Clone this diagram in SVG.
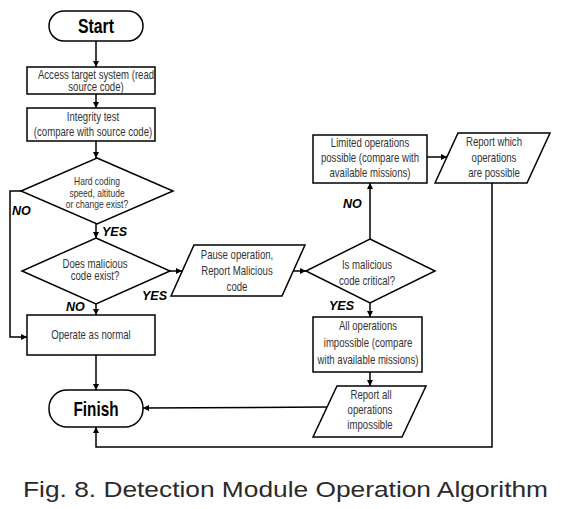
<svg xmlns="http://www.w3.org/2000/svg" width="569" height="509" viewBox="0 0 569 509">
<style>
.s{fill:#fff;stroke:#000;stroke-width:1.5}
.t{font-family:"Liberation Sans",Arial,sans-serif;font-size:12px;fill:#333;text-anchor:middle}
.sm{font-size:10px}
.b{font-family:"Liberation Sans",Arial,sans-serif;font-weight:bold;fill:#000;text-anchor:middle}
.l{font-family:"Liberation Sans",Arial,sans-serif;font-weight:bold;font-style:italic;font-size:12.5px;fill:#000}
.c{fill:none;stroke:#000;stroke-width:1.5}
.cap{font-family:"Liberation Sans",Arial,sans-serif;font-size:22px;fill:#2a2a2a}
</style>
<defs>
<marker id="a" markerUnits="userSpaceOnUse" markerWidth="6" markerHeight="6" refX="6" refY="3" orient="auto">
<path d="M0,0 L6,3 L0,6 z" fill="#000"/>
</marker>
</defs>
<rect width="569" height="509" fill="#fff"/>
<g id="start"><rect class="s" x="49" y="11" width="94" height="30" rx="15"/><text class="b" x="96" y="33" font-size="20" textLength="36" lengthAdjust="spacingAndGlyphs">Start</text></g>
<g id="access"><rect class="s" x="27" y="67" width="128" height="27"/><text class="t" transform="translate(96,78.5) scale(.8,1)">Access target system (read</text><text class="t" transform="translate(96,91) scale(.8,1)">source code)</text></g>
<g id="integrity"><rect class="s" x="27" y="108" width="128" height="33"/><text class="t" transform="translate(93,121) scale(.8,1)">Integrity test</text><text class="t" transform="translate(93,136) scale(.8,1)">(compare with source code)</text></g>
<g id="hardcoding"><polygon class="s" points="97,158 173,191 97,224 21,191"/><text class="t sm" transform="translate(97,185) scale(.85,1)">Hard coding</text><text class="t sm" transform="translate(97,196.5) scale(.85,1)">speed, altitude</text><text class="t sm" transform="translate(97,208) scale(.85,1)">or change exist?</text></g>
<g id="malicious"><polygon class="s" points="96,238 170,271 96,304 22,271"/><text class="t" transform="translate(95,268) scale(.8,1)">Does malicious</text><text class="t" transform="translate(95,280) scale(.8,1)">code exist?</text></g>
<g id="normal"><rect class="s" x="27" y="315" width="128" height="40"/><text class="t" transform="translate(91,339) scale(.8,1)">Operate as normal</text></g>
<g id="finish"><rect class="s" x="49" y="390" width="94" height="37" rx="18"/><text class="b" x="96" y="416" font-size="21" textLength="45" lengthAdjust="spacingAndGlyphs">Finish</text></g>
<g id="pause"><polygon class="s" points="194,245 305,245 282,296 171,296"/><text class="t" transform="translate(237,259) scale(.8,1)">Pause operation,</text><text class="t" transform="translate(237,275) scale(.8,1)">Report Malicious</text><text class="t" transform="translate(237,291) scale(.8,1)">code</text></g>
<g id="critical"><polygon class="s" points="370,239 435,271 370,303 306,271"/><text class="t" transform="translate(367,269) scale(.8,1)">Is malicious</text><text class="t" transform="translate(367,285) scale(.8,1)">code critical?</text></g>
<g id="limited"><rect class="s" x="313" y="135" width="114" height="48"/><text class="t" transform="translate(370,147) scale(.8,1)">Limited operations</text><text class="t" transform="translate(370,162) scale(.8,1)">possible (compare with</text><text class="t" transform="translate(370,177) scale(.8,1)">available missions)</text></g>
<g id="reportwhich"><polygon class="s" points="458,133 550,133 527,183 435,183"/><text class="t" transform="translate(494,146) scale(.8,1)">Report which</text><text class="t" transform="translate(494,162) scale(.8,1)">operations</text><text class="t" transform="translate(494,177) scale(.8,1)">are possible</text></g>
<g id="allops"><rect class="s" x="313" y="317" width="109" height="55"/><text class="t" transform="translate(368,330) scale(.8,1)">All operations</text><text class="t" transform="translate(368,347) scale(.8,1)">impossible (compare</text><text class="t" transform="translate(368,364) scale(.8,1)">with available missions)</text></g>
<g id="reportall"><polygon class="s" points="337,386 426,386 402,437 313,437"/><text class="t" transform="translate(371,399) scale(.8,1)">Report all</text><text class="t" transform="translate(370,414) scale(.8,1)">operations</text><text class="t" transform="translate(370,429) scale(.8,1)">impossible</text></g>
<g id="connectors">
<path class="c" d="M96,41 V67" marker-end="url(#a)"/>
<path class="c" d="M96,94 V108" marker-end="url(#a)"/>
<path class="c" d="M96,141 V158" marker-end="url(#a)"/>
<path class="c" d="M96,224 V238" marker-end="url(#a)"/>
<path class="c" d="M21,191 H10 V337 H27" marker-end="url(#a)"/>
<path class="c" d="M96,304 V315" marker-end="url(#a)"/>
<path class="c" d="M170,271 H182" marker-end="url(#a)"/>
<path class="c" d="M96,355 V390" marker-end="url(#a)"/>
<path class="c" d="M293,271 H306" marker-end="url(#a)"/>
<path class="c" d="M370,239 V183" marker-end="url(#a)"/>
<path class="c" d="M427,157 H447" marker-end="url(#a)"/>
<path class="c" d="M370,303 V317" marker-end="url(#a)"/>
<path class="c" d="M370,372 V386" marker-end="url(#a)"/>
<path class="c" d="M327,407 L143,408" marker-end="url(#a)"/>
<path class="c" d="M492,183 V447 H96 V427" marker-end="url(#a)"/>
<text class="l" x="12" y="215">NO</text>
<text class="l" x="102" y="236">YES</text>
<text class="l" x="66" y="311">NO</text>
<text class="l" x="142" y="300">YES</text>
<text class="l" x="343" y="208">NO</text>
<text class="l" x="329" y="310">YES</text>
</g>
<text class="cap" x="23" y="497" textLength="525" lengthAdjust="spacingAndGlyphs">Fig. 8. Detection Module Operation Algorithm</text>
</svg>
